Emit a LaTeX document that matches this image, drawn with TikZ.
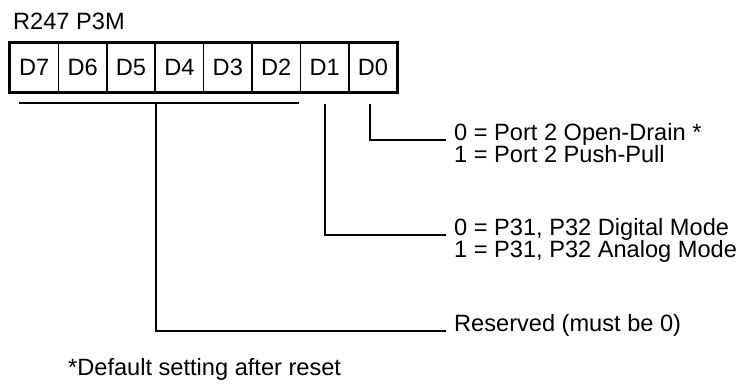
\documentclass[tikz,border=0pt]{standalone}
\usepackage{fontspec}
\setmainfont{Liberation Sans}
\usetikzlibrary{positioning}

\begin{document}
\begin{tikzpicture}[x=1pt, y=1pt, node distance=48.4pt, font=\fontsize{23.6}{25}\selectfont]
\tikzset{bit/.style={draw, line width=1.5pt, minimum width=48.4pt, minimum height=49pt, inner sep=0pt},
         lbl/.style={anchor=base west, inner xsep=8pt, inner ysep=0pt},
         wire/.style={line width=2pt}}
\useasboundingbox (0,0) rectangle (744,-385);
\node (title) [anchor=base west, inner sep=0pt] at (13,-30) {R247 P3M};
\node (d7) [bit] at (34.2,-67.5) {D7};
\node (d6) [bit] [right of = d7] {D6};
\node (d5) [bit] [right of = d6] {D5};
\node (d4) [bit] [right of = d5] {D4};
\node (d3) [bit] [right of = d4] {D3};
\node (d2) [bit] [right of = d3] {D2};
\node (d1) [bit] [right of = d2] {D1};
\node (d0) [bit] [right of = d1] {D0};
\draw[line width=3pt] (d7.north west) rectangle (d0.south east);
\node (od)  [lbl] at (446,-140) {0 = Port 2 Open-Drain *};
\node (pp)  [lbl] at ([yshift=-22.5pt]od.base west) {1 = Port 2 Push-Pull};
\node (dig) [lbl] at (446,-235) {0 = P31, P32 Digital Mode};
\node (ana) [lbl] at ([yshift=-22.5pt]dig.base west) {1 = P31, P32 Analog Mode};
\node (rsv) [lbl] at (446,-331) {Reserved (must be 0)};
\node (note) [anchor=base west, inner sep=0pt] at (68,-375) {*Default setting after reset};
\draw[wire] ([xshift=10pt, yshift=-10pt]d7.south west) -- ([xshift=-2pt, yshift=-10pt]d2.south east);
\draw[wire] ([yshift=-10pt]d5.south east) |- (rsv.base west);
\draw[wire] ([yshift=-11pt]d1.south) |- (dig.base west);
\draw[wire] ([xshift=-3.5pt, yshift=-11pt]d0.south) |- (od.base west);
\end{tikzpicture}
\end{document}
